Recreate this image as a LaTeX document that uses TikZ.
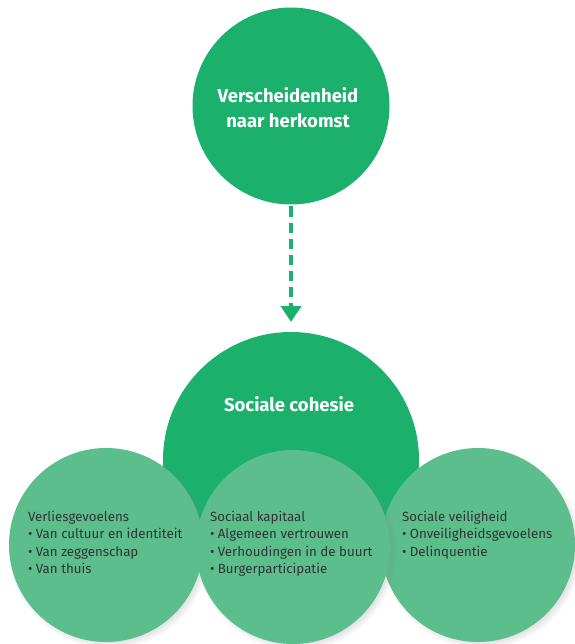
\documentclass[tikz,border=0pt]{standalone}
\usepackage{fontspec}
\setmainfont{Fira Sans}
\usetikzlibrary{shadows,arrows.meta}
\definecolor{darkgreen}{RGB}{27,176,108}
\definecolor{lightgreen}{RGB}{91,190,140}
\definecolor{textgray}{RGB}{51,51,51}
\begin{document}
\begin{tikzpicture}[x=1pt, y=-1pt, every node/.style={inner sep=0pt, outer sep=0pt}, bigcircle/.style={circle, fill=darkgreen}, bigtext/.style={text=white, align=center, font=\bfseries\fontsize{18.5}{25}\selectfont}, smallcircle/.style={circle, fill=lightgreen, minimum size=194pt, circular drop shadow={shadow xshift=3pt, shadow yshift=-3pt, opacity=0.4, shadow scale=1.04}}, itemtext/.style={anchor=north west, align=left, text=textgray, font=\fontsize{13.3}{17.5}\selectfont}]
	\useasboundingbox (0, 0) rectangle (574, 644);

	% Oorzaak
	\node[bigcircle, minimum size=197pt] (herkomst) at (291, 106) {};
	\node[bigtext] (herkomsttekst) at (288, 108) {Verscheidenheid\\naar herkomst};

	% Gevolg
	\node[bigcircle, minimum size=256pt] (cohesie) at (291, 460) {};
	\node[bigtext] (cohesietekst) at (289, 404) {Sociale cohesie};
	\draw[-{Triangle[width=20pt, length=16pt]}, darkgreen, line width=4pt, dash pattern=on 10pt off 6pt, shorten <=2pt, shorten >=10pt] (herkomst.south) -- (cohesie.north);

	% Drie dimensies
	\node[smallcircle] (verlies) at (106, 545) {};
	\node[smallcircle] (veiligheid) at (478, 545) {};
	\node[smallcircle] (kapitaal) at (293, 547) {};
	\node[itemtext] (verliestekst) at (28, 511) {Verliesgevoelens\\\textbullet{} Van cultuur en identiteit\\\textbullet{} Van zeggenschap\\\textbullet{} Van thuis};
	\node[itemtext] (kapitaaltekst) at (210, 511) {Sociaal kapitaal\\\textbullet{} Algemeen vertrouwen\\\textbullet{} Verhoudingen in de buurt\\\textbullet{} Burgerparticipatie};
	\node[itemtext] (veiligheidtekst) at (402, 511) {Sociale veiligheid\\\textbullet{} Onveiligheidsgevoelens\\\textbullet{} Delinquentie};
\end{tikzpicture}
\end{document}
